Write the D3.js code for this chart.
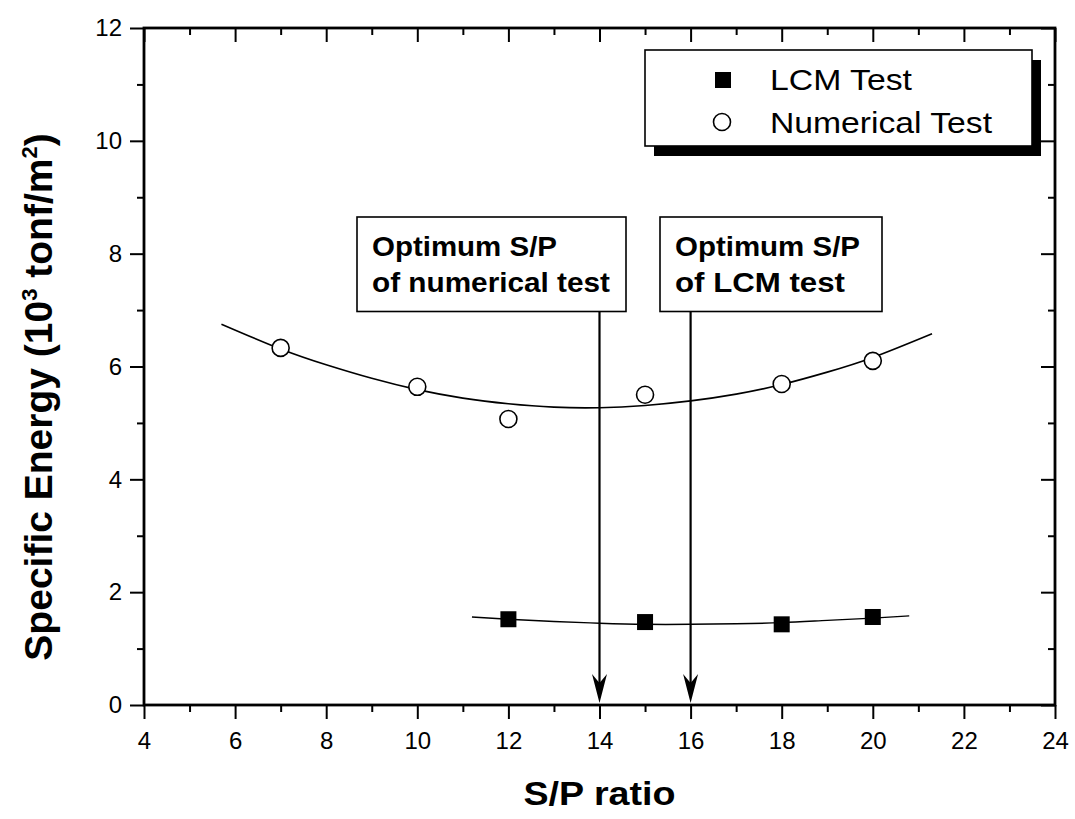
<!DOCTYPE html>
<html>
<head>
<meta charset="utf-8">
<script src="https://cdn.jsdelivr.net/npm/d3@7"></script>
<style>
  html, body { margin: 0; padding: 0; background: #fff; }
  svg text { font-family: "Liberation Sans", Arial, Helvetica, sans-serif; fill: #000; }
</style>
</head>
<body>
<svg id="chart" width="1075" height="819"></svg>
<script>
// ---- data ----
const numX = [7, 10, 12, 15, 18, 20];
const numY = [6.33, 5.64, 5.07, 5.50, 5.69, 6.10];
const lcmX = [12, 15, 18, 20];
const lcmY = [1.52, 1.47, 1.43, 1.56];
const numFitX = [5.7, 7, 8, 9, 10, 11, 12, 13, 14, 15, 16, 17, 18, 19, 20, 21.3];
const numFitY = [6.75, 6.31, 6.03, 5.79, 5.59, 5.44, 5.34, 5.28, 5.27, 5.31, 5.39, 5.51, 5.68, 5.90, 6.16, 6.58];
const lcmFitX = [11.2, 12, 13, 14, 15, 16, 17, 18, 19, 20, 20.8];
const lcmFitY = [1.56, 1.52, 1.48, 1.45, 1.43, 1.43, 1.44, 1.46, 1.50, 1.54, 1.58];
const xTicks = [4, 6, 8, 10, 12, 14, 16, 18, 20, 22, 24];
const xMinor = [5, 7, 9, 11, 13, 15, 17, 19, 21, 23];
const yTicks = [0, 2, 4, 6, 8, 10, 12];
const yMinor = [1, 3, 5, 7, 9, 11];
const optX = [14, 16];
const optLabels = [["Optimum S/P", "of numerical test"], ["Optimum S/P", "of LCM test"]];
const legendLabels = ["LCM Test", "Numerical Test"];

// ---- layout ----
const svg = d3.select("#chart");
const L = 144, R = 1055, T = 28, B = 705;
const x = d3.scaleLinear().domain([4, 24]).range([L, R]);
const y = d3.scaleLinear().domain([0, 12]).range([B, T]);

// axes
function styleAxis(g) {
  g.select(".domain").remove();
  g.selectAll(".tick line").attr("stroke", "#000").attr("stroke-width", 2);
  g.selectAll(".tick text").style("font-size", "24px");
}
svg.append("g").attr("transform", `translate(0,${B})`)
  .call(d3.axisBottom(x).tickValues(xTicks).tickSize(14).tickPadding(13).tickFormat(d3.format("d")))
  .call(styleAxis);
svg.append("g").attr("transform", `translate(0,${B})`)
  .call(d3.axisBottom(x).tickValues(xMinor).tickSize(7).tickFormat(""))
  .call(styleAxis);
svg.append("g").attr("transform", `translate(${L},0)`)
  .call(d3.axisLeft(y).tickValues(yTicks).tickSize(14).tickPadding(8).tickFormat(d3.format("d")))
  .call(styleAxis);
svg.append("g").attr("transform", `translate(${L},0)`)
  .call(d3.axisLeft(y).tickValues(yMinor).tickSize(7).tickFormat(""))
  .call(styleAxis);
// top and right (inward)
svg.append("g").attr("transform", `translate(0,${T})`)
  .call(d3.axisTop(x).tickValues(xTicks).tickSize(-14).tickFormat(""))
  .call(styleAxis);
svg.append("g").attr("transform", `translate(0,${T})`)
  .call(d3.axisTop(x).tickValues(xMinor).tickSize(-7).tickFormat(""))
  .call(styleAxis);
svg.append("g").attr("transform", `translate(${R},0)`)
  .call(d3.axisRight(y).tickValues(yTicks).tickSize(-14).tickFormat(""))
  .call(styleAxis);
svg.append("g").attr("transform", `translate(${R},0)`)
  .call(d3.axisRight(y).tickValues(yMinor).tickSize(-7).tickFormat(""))
  .call(styleAxis);

// frame
svg.append("rect").attr("x", L).attr("y", T).attr("width", R - L).attr("height", B - T)
  .attr("fill", "none").attr("stroke", "#000").attr("stroke-width", 2.8);

// fit curves
const line = d3.line().x(d => x(d[0])).y(d => y(d[1])).curve(d3.curveNatural);
svg.append("path").datum(numFitX.map((v, i) => [v, numFitY[i]]))
  .attr("d", line).attr("fill", "none").attr("stroke", "#000").attr("stroke-width", 1.6);
svg.append("path").datum(lcmFitX.map((v, i) => [v, lcmFitY[i]]))
  .attr("d", line).attr("fill", "none").attr("stroke", "#000").attr("stroke-width", 1.4);

// arrows & annotation boxes
const boxTop = 217, boxBot = 311.5;
const boxes = [
  { left: 357, right: 626, lens: [185, 238] },
  { left: 660, right: 882, lens: [185, 170] }
];
optX.forEach((v, i) => {
  const cx = x(v);
  svg.append("line").attr("x1", cx).attr("x2", cx).attr("y1", boxBot).attr("y2", 690)
    .attr("stroke", "#000").attr("stroke-width", 2.2);
  const tip = B - 2;
  svg.append("path")
    .attr("d", `M${cx},${tip} L${cx - 7.5},${tip - 29} L${cx},${tip - 20} L${cx + 7.5},${tip - 29} Z`)
    .attr("fill", "#000");
  const b = boxes[i];
  svg.append("rect").attr("x", b.left).attr("y", boxTop).attr("width", b.right - b.left).attr("height", boxBot - boxTop)
    .attr("fill", "#fff").attr("stroke", "#000").attr("stroke-width", 1.6);
  optLabels[i].forEach((t, j) => {
    svg.append("text").attr("x", b.left + 15).attr("y", j === 0 ? 256 : 292)
      .attr("textLength", b.lens[j]).attr("lengthAdjust", "spacingAndGlyphs")
      .style("font-size", "28px").style("font-weight", "bold").text(t);
  });
});

// markers
svg.append("g").selectAll("circle").data(numX.map((v, i) => [v, numY[i]])).join("circle")
  .attr("cx", d => x(d[0])).attr("cy", d => y(d[1])).attr("r", 8.5)
  .attr("fill", "#fff").attr("stroke", "#000").attr("stroke-width", 1.6);
svg.append("g").selectAll("rect").data(lcmX.map((v, i) => [v, lcmY[i]])).join("rect")
  .attr("x", d => x(d[0]) - 8).attr("y", d => y(d[1]) - 8).attr("width", 16).attr("height", 16)
  .attr("fill", "#000");

// legend
const lg = { x: 645, y: 50, w: 387, h: 96 };
svg.append("rect").attr("x", lg.x + 9).attr("y", lg.y + 10).attr("width", lg.w).attr("height", lg.h).attr("fill", "#000");
svg.append("rect").attr("x", lg.x).attr("y", lg.y).attr("width", lg.w).attr("height", lg.h)
  .attr("fill", "#fff").attr("stroke", "#000").attr("stroke-width", 1.6);
svg.append("rect").attr("x", 723 - 8).attr("y", 80 - 8).attr("width", 16).attr("height", 16).attr("fill", "#000");
svg.append("circle").attr("cx", 722).attr("cy", 122).attr("r", 8.5)
  .attr("fill", "#fff").attr("stroke", "#000").attr("stroke-width", 1.6);
const legLens = [142, 222];
legendLabels.forEach((t, i) => {
  svg.append("text").attr("x", 770).attr("y", i === 0 ? 90 : 133)
    .attr("textLength", legLens[i]).attr("lengthAdjust", "spacingAndGlyphs")
    .style("font-size", "29px").text(t);
});

// axis titles
svg.append("text").attr("x", (L + R) / 2).attr("y", 805).attr("text-anchor", "middle")
  .attr("textLength", 152).attr("lengthAdjust", "spacingAndGlyphs")
  .style("font-size", "33px").style("font-weight", "bold").text("S/P ratio");

const yt = svg.append("text").attr("transform", "translate(52,397) rotate(-90)")
  .attr("text-anchor", "middle").style("font-size", "39px").style("font-weight", "bold");
yt.append("tspan").text("Specific Energy (10");
yt.append("tspan").attr("dy", -15).style("font-size", "22px").text("3");
yt.append("tspan").attr("dy", 15).text(" tonf/m");
yt.append("tspan").attr("dy", -15).style("font-size", "22px").text("2");
yt.append("tspan").attr("dy", 15).text(")");
</script>
</body>
</html>
